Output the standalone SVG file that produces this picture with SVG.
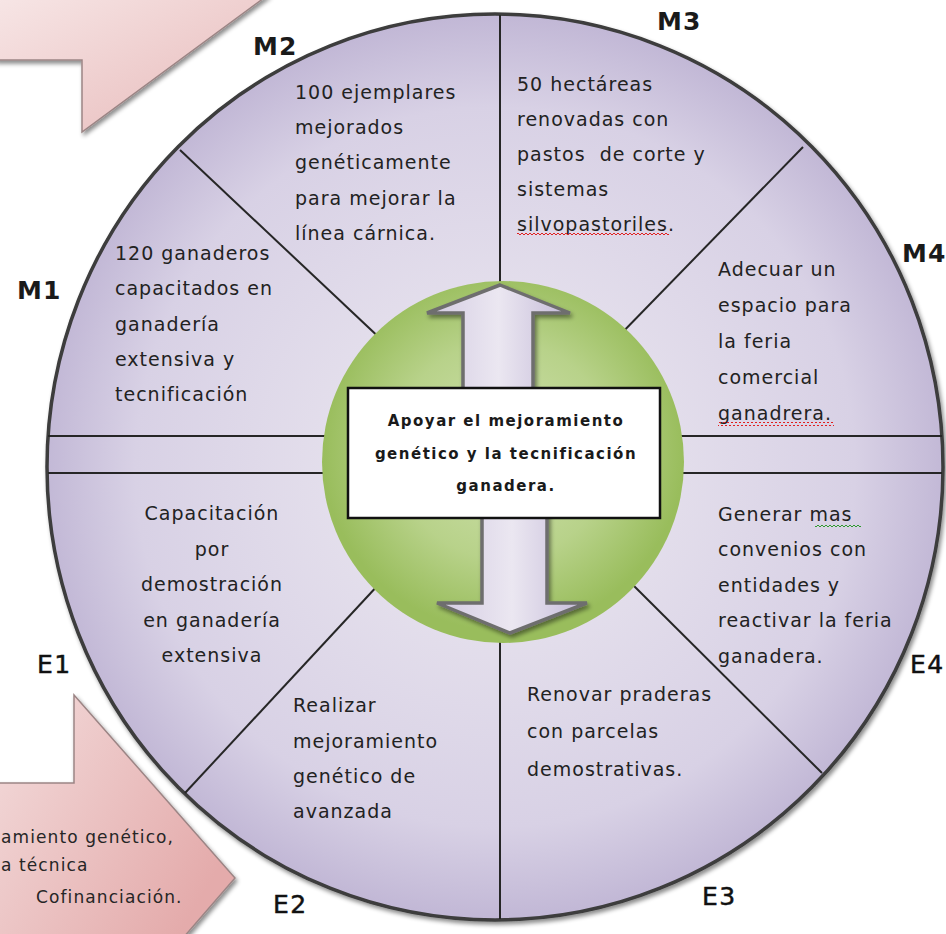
<svg xmlns="http://www.w3.org/2000/svg" width="946" height="934" viewBox="0 0 946 934">
<defs>
<style>
.t{font-family:"DejaVu Sans","Liberation Sans",sans-serif;font-size:19px;letter-spacing:1px;fill:#222222}
.lblM{font-family:"DejaVu Sans","Liberation Sans",sans-serif;font-size:25px;font-weight:bold;letter-spacing:1px;fill:#1a1a1a}
.lblE{font-family:"DejaVu Sans","Liberation Sans",sans-serif;font-size:25px;letter-spacing:1.5px;fill:#111111;stroke:#111111;stroke-width:0.5}
.ctr{font-family:"DejaVu Sans","Liberation Sans",sans-serif;font-size:15px;font-weight:bold;letter-spacing:1.5px;fill:#1a1a1a;text-anchor:middle}
.pk{font-family:"DejaVu Sans","Liberation Sans",sans-serif;font-size:17px;letter-spacing:1.1px;fill:#262626}
.div{stroke:#262626;stroke-width:2;fill:none}
.arr{stroke:#6e6e6e;stroke-width:3.5;stroke-linejoin:miter;fill:url(#arrFill)}
</style>
<radialGradient id="ringFill" cx="495" cy="467" r="450" gradientUnits="userSpaceOnUse">
<stop offset="0.35" stop-color="#e4dfec"/>
<stop offset="0.8" stop-color="#d8d1e5"/>
<stop offset="1" stop-color="#c2b8d6"/>
</radialGradient>
<radialGradient id="greenFill" cx="503" cy="450" r="181" gradientUnits="userSpaceOnUse">
<stop offset="0" stop-color="#cfe1ad"/>
<stop offset="0.6" stop-color="#b8d28a"/>
<stop offset="1" stop-color="#99bd5c"/>
</radialGradient>
<linearGradient id="arrFill" x1="0" y1="0" x2="1" y2="0">
<stop offset="0" stop-color="#d3cbe2"/>
<stop offset="0.5" stop-color="#ebe7f1"/>
<stop offset="1" stop-color="#c4bad8"/>
</linearGradient>
<linearGradient id="pinkTop" x1="0" y1="0" x2="1" y2="1">
<stop offset="0" stop-color="#f7e6e6"/>
<stop offset="1" stop-color="#e7b9b9"/>
</linearGradient>
<linearGradient id="pinkBot" x1="0" y1="0" x2="1" y2="0.6">
<stop offset="0" stop-color="#f3dcdc"/>
<stop offset="1" stop-color="#e4abab"/>
</linearGradient>
<pattern id="wavyRed" width="4" height="4" patternUnits="userSpaceOnUse">
<path d="M0,3 L2,1 L4,3" stroke="#e02020" stroke-width="1" fill="none"/>
</pattern>
<pattern id="wavyGreen" width="4" height="4" patternUnits="userSpaceOnUse">
<path d="M0,3 L2,1 L4,3" stroke="#2e9a2e" stroke-width="1" fill="none"/>
</pattern>
<filter id="sh" x="-10%" y="-10%" width="120%" height="120%">
<feDropShadow dx="2" dy="3" stdDeviation="2" flood-color="#000" flood-opacity="0.45"/>
</filter>
</defs>
<rect width="946" height="934" fill="#ffffff"/>

<g id="arrow-top-left">
<polygon points="-5,-5 268,-5 82,132 82,60 -5,60" fill="url(#pinkTop)" stroke="#9c8585" stroke-width="1.5" filter="url(#sh)"/>
</g>

<g id="arrow-bottom-left">
<polygon points="-5,783 74,783 74,695 235,878 183,938 -5,938" fill="url(#pinkBot)" stroke="#9c8585" stroke-width="1.5" filter="url(#sh)"/>
<text class="pk" x="1" y="843">amiento genético,</text>
<text class="pk" x="1" y="871">a técnica</text>
<text class="pk" x="36" y="903">Cofinanciación.</text>
</g>

<g id="ring">
<ellipse cx="495" cy="467" rx="448" ry="453" fill="url(#ringFill)" stroke="#3c3c3c" stroke-width="3.5" filter="url(#sh)"/>
</g>

<g id="connectors">
<line class="div" x1="500" y1="15" x2="500" y2="300"/>
<line class="div" x1="500" y1="630" x2="500" y2="919"/>
<line class="div" x1="48" y1="436" x2="340" y2="436"/>
<line class="div" x1="48" y1="473" x2="340" y2="473"/>
<line class="div" x1="670" y1="436" x2="942" y2="436"/>
<line class="div" x1="670" y1="473" x2="942" y2="473"/>
<line class="div" x1="180" y1="150" x2="385" y2="343"/>
<line class="div" x1="803" y1="147" x2="615" y2="340"/>
<line class="div" x1="185" y1="793" x2="380" y2="583"/>
<line class="div" x1="822" y1="773" x2="630" y2="582"/>
</g>

<g id="center">
<circle cx="503" cy="462" r="181" fill="url(#greenFill)"/>
<polygon class="arr" points="500,285 570,313 533,313 533,395 463,395 463,313 427,313" filter="url(#sh)"/>
<polygon class="arr" points="482,512 547,512 547,603 587,603 510,633 437,603 482,603" filter="url(#sh)"/>
<rect x="348" y="388" width="312" height="130" fill="#ffffff" stroke="#111" stroke-width="2.5"/>
<text class="ctr" x="506" y="426">Apoyar el mejoramiento</text>
<text class="ctr" x="506" y="459">genético y la tecnificación</text>
<text class="ctr" x="506" y="491">ganadera.</text>
</g>

<g id="M1">
<text class="lblM" x="17" y="299">M1</text>
<text class="t" x="115" y="260">120 ganaderos</text>
<text class="t" x="115" y="295">capacitados en</text>
<text class="t" x="115" y="331">ganadería</text>
<text class="t" x="115" y="366">extensiva y</text>
<text class="t" x="115" y="401">tecnificación</text>
</g>

<g id="M2">
<text class="lblM" x="253" y="55">M2</text>
<text class="t" x="295" y="99">100 ejemplares</text>
<text class="t" x="295" y="134">mejorados</text>
<text class="t" x="295" y="169">genéticamente</text>
<text class="t" x="295" y="205">para mejorar la</text>
<text class="t" x="295" y="240">línea cárnica.</text>
</g>

<g id="M3">
<text class="lblM" x="657" y="30">M3</text>
<text class="t" x="517" y="91">50 hectáreas</text>
<text class="t" x="517" y="126">renovadas con</text>
<text class="t" x="517" y="161" xml:space="preserve">pastos  de corte y</text>
<text class="t" x="517" y="196">sistemas</text>
<text class="t" x="517" y="231">silvopastoriles.</text>
<rect x="517" y="233" width="152" height="4" fill="url(#wavyRed)"/>
</g>

<g id="M4">
<text class="lblM" x="902" y="262">M4</text>
<text class="t" x="718" y="276">Adecuar un</text>
<text class="t" x="718" y="312">espacio para</text>
<text class="t" x="718" y="348">la feria</text>
<text class="t" x="718" y="384">comercial</text>
<text class="t" x="718" y="420">ganadrera.</text>
<rect x="718" y="422" width="116" height="4" fill="url(#wavyRed)"/>
</g>

<g id="E1">
<text class="lblE" x="37" y="673">E1</text>
<g text-anchor="middle">
<text class="t" x="212" y="520">Capacitación</text>
<text class="t" x="212" y="556">por</text>
<text class="t" x="212" y="591">demostración</text>
<text class="t" x="212" y="627">en ganadería</text>
<text class="t" x="212" y="662">extensiva</text>
</g>
</g>

<g id="E2">
<text class="lblE" x="273" y="913">E2</text>
<text class="t" x="293" y="712">Realizar</text>
<text class="t" x="293" y="748">mejoramiento</text>
<text class="t" x="293" y="783">genético de</text>
<text class="t" x="293" y="818">avanzada</text>
</g>

<g id="E3">
<text class="lblE" x="702" y="905">E3</text>
<text class="t" x="527" y="701">Renovar praderas</text>
<text class="t" x="527" y="738">con parcelas</text>
<text class="t" x="527" y="776">demostrativas.</text>
</g>

<g id="E4">
<text class="lblE" x="910" y="673">E4</text>
<text class="t" x="718" y="521">Generar mas</text>
<rect x="815" y="523" width="46" height="4" fill="url(#wavyGreen)"/>
<text class="t" x="718" y="556">convenios con</text>
<text class="t" x="718" y="592">entidades y</text>
<text class="t" x="718" y="627">reactivar la feria</text>
<text class="t" x="718" y="663">ganadera.</text>
</g>
</svg>
